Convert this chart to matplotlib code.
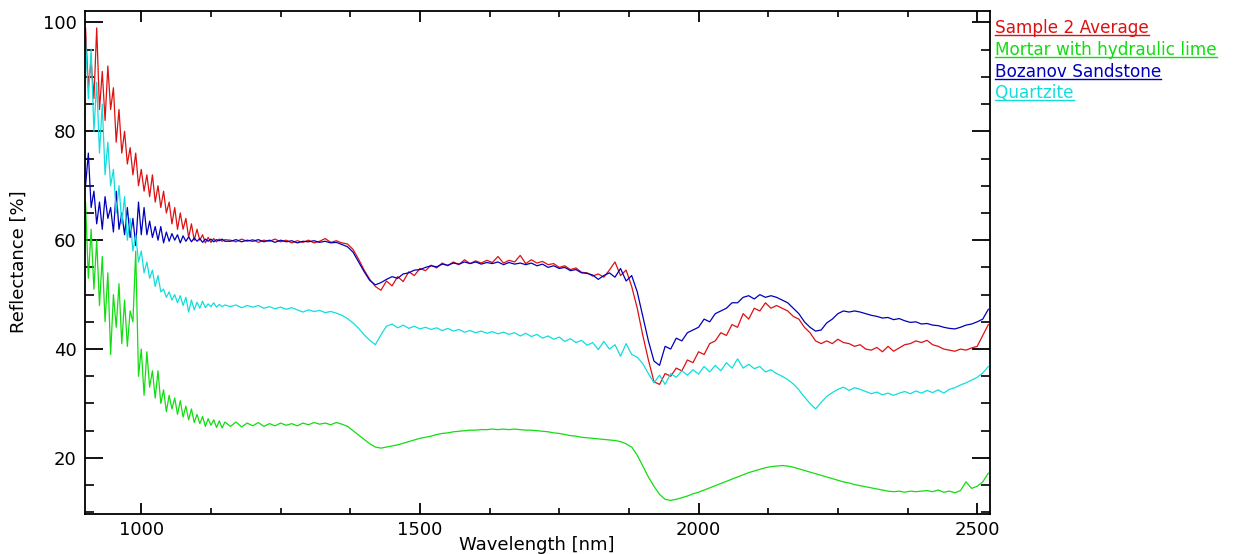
import numpy as np
import matplotlib
matplotlib.use("Agg")
import matplotlib.pyplot as plt
from matplotlib.ticker import MultipleLocator
from matplotlib.lines import Line2D

# ---------------- data ----------------
wl_early = list(range(900, 1151, 5))      # 51 points
wl_late = list(range(1160, 2521, 10))     # 137 points
wavelength = wl_early + wl_late

sample2_early = [99, 88, 93, 86, 99, 84, 91, 82, 92, 84,
                 88, 78, 84, 76, 80, 74, 77, 72, 76, 70,
                 73, 69, 72, 68, 72, 67, 70, 66, 69, 65,
                 67, 63, 66, 62, 65, 62, 64, 60.5, 63, 60,
                 62, 60, 61, 59.5, 60.5, 59.6, 60.3, 59.7, 60.2, 59.8,
                 60.1]
sample2_late = [60.0, 59.7, 60.2, 59.8, 60.1, 59.6, 60.0, 59.8, 60.2, 59.7,
                60.0, 59.5, 59.9, 59.6, 60.0, 59.5, 59.8, 60.3, 59.6, 59.9,
                59.5, 59.3, 58.3, 56.5, 54.5, 52.8, 51.5, 50.8, 52.5, 51.6,
                53.3, 52.4, 54.2, 53.5, 54.8, 54.4, 55.4, 54.9, 55.8, 55.3,
                56.0, 55.5, 56.4, 55.7, 56.2, 55.8, 56.3, 55.9, 57.0, 55.8,
                56.3, 56.0, 57.2, 55.7, 56.4, 55.8, 56.1, 55.5, 55.7, 55.0,
                55.3, 54.6, 54.9, 54.1, 54.0, 53.4, 53.8, 53.2, 54.5, 56.0,
                53.5, 54.5, 51.5, 47.5, 42.5, 38.0, 34.0, 33.5, 35.5, 35.0,
                36.5, 36.0, 38.0, 37.5, 39.5, 39.0, 41.0, 41.5, 43.0, 42.5,
                44.5, 44.0, 46.5, 45.5, 47.5, 47.0, 48.5, 47.5, 48.0, 47.5,
                47.0, 46.0, 45.5, 44.0, 43.0, 41.5, 41.0, 41.5, 41.0, 41.8,
                41.2, 41.0, 40.5, 40.8, 40.0, 39.8, 40.3, 39.5, 40.5, 39.6,
                40.2, 40.8, 41.0, 41.5, 41.2, 41.6, 40.8, 40.5, 40.0, 39.8,
                39.6, 40.0, 39.8, 40.2, 40.5, 42.5, 44.5]

mortar_early = [67, 53, 62, 51, 60, 48, 57, 45, 54, 39,
                50, 44, 52, 41, 49, 40.5, 47, 45, 58, 35,
                40, 31.5, 39.5, 33, 36, 31, 36, 30, 32.5, 28.5,
                31.5, 29, 31, 28, 30.5, 27.5, 29.5, 27, 29, 26.5,
                28, 26.3, 27.6, 25.8, 27.2, 26.0, 27.0, 25.6, 26.8, 25.5,
                26.6]
mortar_late = [25.8, 26.6, 25.7, 26.4, 25.9, 26.5, 25.8, 26.3, 25.9, 26.4,
               26.0, 26.3, 25.9, 26.4, 26.1, 26.5, 26.2, 26.4, 26.1, 26.5,
               26.2, 25.8, 25.0, 24.2, 23.4, 22.6, 22.0, 21.8, 22.0, 22.2,
               22.4, 22.7, 23.0, 23.3, 23.6, 23.8, 24.0, 24.3, 24.5, 24.6,
               24.8, 24.9, 25.0, 25.1, 25.1, 25.2, 25.2, 25.3, 25.2, 25.3,
               25.2, 25.3, 25.2, 25.1, 25.1, 25.0, 24.9, 24.8, 24.6, 24.5,
               24.3, 24.1, 24.0, 23.8, 23.7, 23.6, 23.5, 23.4, 23.3, 23.2,
               23.0, 22.6, 22.0, 20.5, 18.5, 16.5, 14.8, 13.3, 12.4, 12.2,
               12.4, 12.7, 13.0, 13.4, 13.7, 14.1, 14.5, 14.9, 15.3, 15.7,
               16.1, 16.5, 16.9, 17.3, 17.6, 17.9, 18.2, 18.4, 18.5, 18.6,
               18.5, 18.3, 18.0, 17.7, 17.4, 17.1, 16.8, 16.5, 16.2, 15.9,
               15.6, 15.4, 15.1, 14.9, 14.7, 14.5, 14.3, 14.1, 13.9, 13.8,
               13.9, 13.7, 13.9, 13.8, 13.9, 14.0, 13.8, 14.1, 13.7, 13.9,
               13.6, 14.0, 15.6, 14.4, 14.8, 15.6, 17.2]

bozanov_early = [70, 76, 66, 69, 63, 67, 62, 68, 64, 66,
                 61.5, 69, 62, 65, 61, 66, 60.5, 64, 59, 67,
                 61, 66, 61, 63.5, 60.5, 62.5, 60, 62.5, 59.5, 61.5,
                 59.8, 61.2, 60, 61, 59.5, 60.8, 59.8, 60.6, 59.7, 60.4,
                 59.8, 60.3, 59.6, 60.2, 59.8, 60.2, 59.7, 60.1, 59.9, 60.2,
                 59.8]
bozanov_late = [59.8, 60.1, 59.7, 60.0, 59.8, 60.1, 59.7, 60.0, 59.6, 60.0,
                59.7, 59.9, 59.5, 59.8, 59.7, 59.9, 59.6, 59.8, 59.5, 59.6,
                59.2, 58.8, 57.8, 56.0, 54.2, 52.6, 51.8, 52.2, 52.8, 53.3,
                53.0, 53.8, 54.0, 54.5, 54.6, 55.0, 55.3, 55.1, 55.6, 55.4,
                55.8, 55.6, 56.0, 55.7, 56.0, 55.6, 55.9, 55.7, 56.0, 55.5,
                55.9, 55.6, 55.8, 55.5, 55.8, 55.3, 55.6, 55.0, 55.3, 54.8,
                55.0, 54.4, 54.6, 54.0, 53.9, 53.6, 52.8, 53.5, 54.0, 53.2,
                54.8, 52.5, 53.5, 50.5, 46.0, 41.5, 37.8, 37.0, 40.5, 40.0,
                42.0, 41.5, 43.0, 43.5, 44.0, 45.5, 45.0, 46.5, 47.0, 47.5,
                48.5, 48.5, 49.5, 49.8, 49.2, 50.0, 49.5, 49.8, 49.5, 49.0,
                48.5, 47.5, 46.5, 45.0, 44.0, 43.3, 43.5, 44.8, 45.5, 46.5,
                47.0, 46.8, 47.0, 46.8, 46.5, 46.2, 46.0, 45.7, 45.8, 45.4,
                45.6, 45.2, 44.9, 45.0, 44.6, 44.7, 44.4, 44.3, 44.0, 43.8,
                43.7, 44.0, 44.4, 44.6, 45.0, 45.5, 47.3]

quartzite_early = [97, 86, 95, 80, 89, 76, 85, 72, 78, 70,
                   73, 65, 70, 63, 68, 60, 64, 58, 61, 56,
                   58, 54, 56, 53, 54.5, 51.5, 53.5, 50.5, 51, 49.5,
                   50.5, 49, 50, 48.5, 49.8, 48, 49.5, 46.8, 49, 47.2,
                   48.6, 47.5, 48.8, 47.6, 48.3, 47.8, 48.5, 47.7, 48.2, 47.8,
                   48.1]
quartzite_late = [47.8, 48.1, 47.6, 48.0, 47.7, 48.0, 47.5, 47.8, 47.4, 47.7,
                  47.3, 47.6, 47.2, 46.8, 47.2, 46.9, 47.1, 46.7, 46.9, 46.6,
                  46.2, 45.6, 44.8, 43.8, 42.6, 41.6, 40.8, 42.6, 44.2, 44.6,
                  43.9, 44.4, 43.8, 44.2, 43.7, 44.0, 43.6, 43.9, 43.4, 43.8,
                  43.3, 43.6, 43.1, 43.4, 43.0, 43.3, 42.9, 43.2, 42.8, 43.1,
                  42.7, 43.0, 42.4, 42.9, 42.3, 42.7, 42.0, 42.4, 41.8, 42.2,
                  41.4, 41.9, 41.2, 41.6, 40.7, 41.2, 39.9, 41.4, 40.0, 40.8,
                  38.7, 41.0, 39.0, 38.5, 37.3, 35.5, 33.8, 35.2, 33.5, 35.5,
                  34.8, 36.0, 35.2, 36.2, 35.4, 36.8, 35.8, 37.0, 36.0, 37.5,
                  36.5, 38.2, 36.5, 37.2, 36.4, 36.8, 35.8, 36.2, 35.5, 35.0,
                  34.4, 33.6, 32.5, 31.2, 30.0, 29.0, 30.2, 31.3, 32.0, 32.6,
                  33.0, 32.4, 32.9, 32.6, 32.2, 31.8, 32.1, 31.6, 31.9, 31.5,
                  31.9, 32.2, 31.8, 32.3, 31.9, 32.4, 32.0, 32.5, 31.9, 32.6,
                  32.9, 33.4, 33.8, 34.3, 34.8, 35.6, 36.8]

series_names = ["Sample 2 Average", "Mortar with hydraulic lime",
                "Bozanov Sandstone", "Quartzite"]
series_values = [sample2_early + sample2_late,
                 mortar_early + mortar_late,
                 bozanov_early + bozanov_late,
                 quartzite_early + quartzite_late]
series_colors = ["#dd1111", "#11dd11", "#0000bb", "#11dddd"]

x_ticks = [1000, 1500, 2000, 2500]
y_ticks = [20, 40, 60, 80, 100]

# ---------------- figure ----------------
W, H = 1233, 554
fig = plt.figure(figsize=(W / 100, H / 100), dpi=100)
ax = fig.add_axes([85 / W, 1 - 514 / H, (990 - 85) / W, (514 - 11) / H])

for name, vals, col in zip(series_names, series_values, series_colors):
    ax.plot(wavelength, vals, color=col, lw=0.9, label=name)

ax.set_xlim(899, 2523)
ax.set_ylim(9.7, 102.1)
ax.set_xticks(x_ticks)
ax.set_yticks(y_ticks)
ax.xaxis.set_minor_locator(MultipleLocator(125))
ax.yaxis.set_minor_locator(MultipleLocator(5))

for sp in ax.spines.values():
    sp.set_linewidth(1.3)
    sp.set_color("black")

ax.tick_params(axis="y", which="major", direction="in", length=13, width=1.3,
               left=True, right=True, labelsize=13, pad=6)
ax.tick_params(axis="y", which="minor", direction="in", length=6.5, width=1.2,
               left=True, right=True)
ax.tick_params(axis="x", which="major", direction="in", length=8, width=1.3,
               bottom=True, top=True, labelsize=13, pad=5)
ax.tick_params(axis="x", which="minor", direction="in", length=4, width=1.2,
               bottom=True, top=True)

fig.text(19 / W, 1 - 262 / H, "Reflectance [%]", rotation=90, fontsize=13,
         ha="center", va="center")
fig.text(537 / W, 1 - 545 / H, "Wavelength [nm]", fontsize=13,
         ha="center", va="center")

# legend: coloured, underlined text at the right
baselines = [33, 55, 77, 97.5]
texts = []
for name, col, yb in zip(series_names, series_colors, baselines):
    t = fig.text(995 / W, 1 - yb / H, name, color=col, fontsize=12.2,
                 ha="left", va="baseline")
    texts.append((t, col, yb))

fig.canvas.draw()
renderer = fig.canvas.get_renderer()
for t, col, yb in texts:
    bb = t.get_window_extent(renderer)
    yl = 1 - (yb + 2) / H
    fig.add_artist(Line2D([bb.x0 / W, bb.x1 / W], [yl, yl], color=col,
                          lw=1.0, transform=fig.transFigure))

fig.savefig("out.png", dpi=100)
